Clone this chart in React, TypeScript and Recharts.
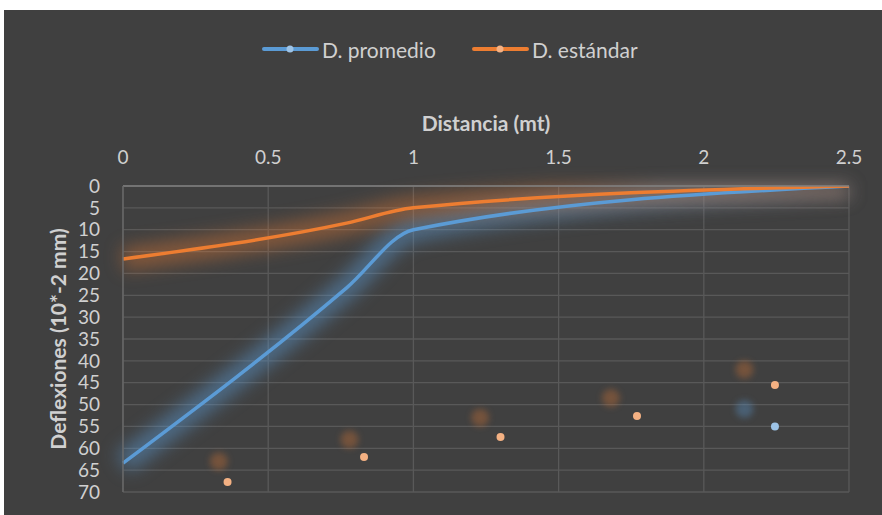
import { CartesianGrid, ComposedChart, Label, Line, Scatter, XAxis, YAxis } from 'recharts'

// distancia (mt) vs deflexiones (10*-2 mm)
const distancia = [0, 0.77, 1, 2.5]
const deflexionPromedio = [63.4, 23.3, 10, 0]
const deflexionEstandar = [16.7, 8.5, 5, 0]

const xTicks = [0, 0.5, 1, 1.5, 2, 2.5]
const yTicks = [0, 5, 10, 15, 20, 25, 30, 35, 40, 45, 50, 55, 60, 65, 70]

// loose markers floating inside the plot
const marcaEstandarX = [0.36, 0.83, 1.3, 1.77, 2.245]
const marcaEstandarY = [67.7, 62, 57.4, 52.6, 45.5]
const marcaPromedioX = [2.245]
const marcaPromedioY = [55]
const haloEstandarX = [0.33, 0.78, 1.23, 1.68, 2.14]
const haloEstandarY = [63, 58, 53, 48.5, 42]
const haloPromedioX = [2.14]
const haloPromedioY = [51]

const AZUL = '#5B9BD5'
const NARANJA = '#ED7D31'
const TEXTO = '#d0d0d0'
const FONT = 'Lato, sans-serif'

const toPoints = (xs: number[], ys: number[]) => xs.map((x, i) => ({ x, y: ys[i] }))

const promedio = toPoints(distancia, deflexionPromedio)
const estandar = toPoints(distancia, deflexionEstandar)

function dot(color: string, r: number, blur = 0, opacity = 1) {
  return (props: any) => (
    <circle
      cx={props.cx}
      cy={props.cy}
      r={r}
      fill={color}
      fillOpacity={opacity}
      style={blur ? { filter: `blur(${blur}px)` } : undefined}
    />
  )
}

function LegendItem({ left, color, dotColor, text }: { left: number; color: string; dotColor: string; text: string }) {
  return (
    <div style={{ position: 'absolute', left, top: 0, height: 26, display: 'flex', alignItems: 'center' }}>
      <svg width={57} height={10}>
        <line x1={2} y1={5} x2={55} y2={5} stroke={color} strokeWidth={4} strokeLinecap="round" />
        <circle cx={28} cy={5} r={3.5} fill={dotColor} />
      </svg>
      <span style={{ marginLeft: 3, color: TEXTO, fontSize: 21, whiteSpace: 'nowrap' }}>{text}</span>
    </div>
  )
}

export default function App() {
  return (
    <div
      style={{
        position: 'absolute',
        left: 4,
        top: 10,
        width: 878,
        height: 505,
        background: '#404040',
        fontFamily: FONT,
      }}
    >
      <style>{`.glow-line { filter: blur(9px); }`}</style>
      <div style={{ position: 'absolute', top: 26, left: 0 }}>
        <LegendItem left={258} color={AZUL} dotColor="#9DC3E6" text="D. promedio" />
        <LegendItem left={468} color={NARANJA} dotColor="#F4B183" text="D. estándar" />
      </div>
      <ComposedChart width={878} height={505} margin={{ top: 0, right: 33, bottom: 23, left: 0 }}>
        <CartesianGrid stroke="#595959" strokeWidth={1.3} />
        <XAxis
          dataKey="x"
          type="number"
          orientation="top"
          domain={[0, 2.5]}
          ticks={xTicks}
          height={176}
          axisLine={{ stroke: '#7f7f7f', strokeWidth: 1.5 }}
          tickLine={false}
          tickSize={0}
          tickMargin={22}
          tick={{ fill: TEXTO, fontSize: 19, fontFamily: FONT }}
        >
          <Label
            content={({ viewBox }: any) => (
              <text
                x={viewBox.x + viewBox.width / 2}
                y={112}
                textAnchor="middle"
                dominantBaseline="central"
                fill={TEXTO}
                fontSize={21}
                fontWeight="bold"
                fontFamily={FONT}
              >
                Distancia (mt)
              </text>
            )}
          />
        </XAxis>
        <YAxis
          type="number"
          reversed
          domain={[0, 70]}
          ticks={yTicks}
          interval={0}
          allowDataOverflow
          width={119}
          axisLine={{ stroke: '#6a6a6a', strokeWidth: 1.3 }}
          tickLine={false}
          tickSize={0}
          tickMargin={23}
          tick={{ fill: TEXTO, fontSize: 19, fontFamily: FONT }}
        >
          <Label
            content={({ viewBox }: any) => {
              const cx = viewBox.x + 53
              const cy = viewBox.y + viewBox.height / 2
              return (
                <text
                  x={cx}
                  y={cy}
                  transform={`rotate(-90 ${cx} ${cy})`}
                  textAnchor="middle"
                  dominantBaseline="central"
                  fill={TEXTO}
                  fontSize={21}
                  fontWeight="bold"
                  fontFamily={FONT}
                >
                  Deflexiones (10*-2 mm)
                </text>
              )
            }}
          />
        </YAxis>

        {/* soft glow under each curve */}
        <Line
          data={promedio}
          dataKey="y"
          type="monotone"
          stroke={AZUL}
          strokeOpacity={0.5}
          strokeWidth={22}
          dot={false}
          activeDot={false}
          className="glow-line"
          legendType="none"
          isAnimationActive={false}
        />
        <Line
          data={estandar}
          dataKey="y"
          type="monotone"
          stroke={NARANJA}
          strokeOpacity={0.42}
          strokeWidth={22}
          dot={false}
          activeDot={false}
          className="glow-line"
          legendType="none"
          isAnimationActive={false}
        />

        <Scatter data={toPoints(haloEstandarX, haloEstandarY)} dataKey="y" shape={dot(NARANJA, 9, 3, 0.3)} isAnimationActive={false} />
        <Scatter data={toPoints(haloPromedioX, haloPromedioY)} dataKey="y" shape={dot(AZUL, 9, 3, 0.35)} isAnimationActive={false} />
        <Scatter data={toPoints(marcaEstandarX, marcaEstandarY)} dataKey="y" shape={dot('#F4B183', 4)} isAnimationActive={false} />
        <Scatter data={toPoints(marcaPromedioX, marcaPromedioY)} dataKey="y" shape={dot('#9DC3E6', 4)} isAnimationActive={false} />

        <Line
          data={promedio}
          dataKey="y"
          name="D. promedio"
          type="monotone"
          stroke={AZUL}
          strokeWidth={3.5}
          dot={false}
          activeDot={false}
          isAnimationActive={false}
        />
        <Line
          data={estandar}
          dataKey="y"
          name="D. estándar"
          type="monotone"
          stroke={NARANJA}
          strokeWidth={3.5}
          dot={false}
          activeDot={false}
          isAnimationActive={false}
        />
      </ComposedChart>
    </div>
  )
}
